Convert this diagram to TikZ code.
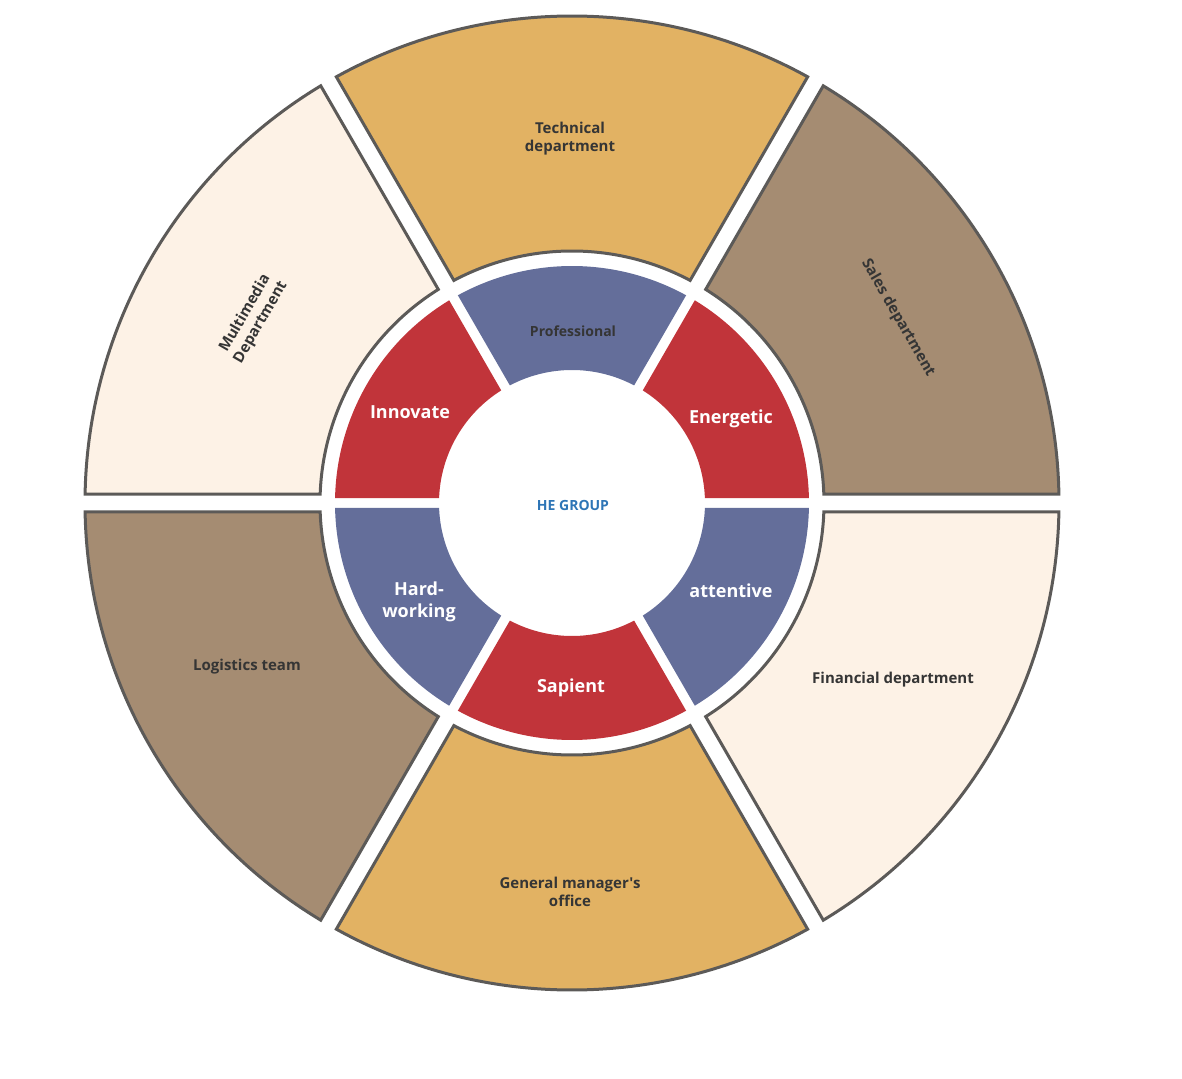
\documentclass[tikz,border=0pt]{standalone}
\usepackage{fontspec}
\setmainfont{Open Sans}[Ligatures=TeXOff]
\definecolor{gold}{HTML}{E2B263}
\definecolor{tan}{HTML}{A58C72}
\definecolor{cream}{HTML}{FDF2E6}
\definecolor{rimgray}{HTML}{5C5A58}
\definecolor{ringred}{HTML}{C1343A}
\definecolor{ringblue}{HTML}{646E9A}
\definecolor{labeldark}{HTML}{353535}
\definecolor{heblue}{HTML}{2E75B6}
\newcommand\ringsector[6]{%
  \pgfmathsetmacro\dA{asin(#5/#3)}%
  \pgfmathsetmacro\dB{asin(#5/#4)}%
  \path[#6] ({#1+\dA}:#3pt) -- ({#1+\dB}:#4pt)
    arc[start angle={#1+\dB}, end angle={#2-\dB}, radius=#4pt]
    -- ({#2-\dA}:#3pt)
    arc[start angle={#2-\dA}, end angle={#1+\dA}, radius=#3pt] -- cycle;}
\tikzset{
  outerseg/.style={draw=rimgray, line width=3pt, line join=miter, fill=#1},
  innerseg/.style={fill=#1},
  deptlabel/.style={text=labeldark, font=\fontsize{15}{18}\selectfont\bfseries, align=center},
  valuelabel/.style={text=white, font=\fontsize{18}{22}\selectfont\bfseries, align=center},
}
\begin{document}
\begin{tikzpicture}[x=1pt,y=1pt]
\useasboundingbox (-572pt,-575pt) rectangle (610pt,503pt);
% outer ring
\ringsector{0}{60}{252}{487}{9}{outerseg=tan}
\ringsector{60}{120}{252}{487}{9}{outerseg=gold}
\ringsector{120}{180}{252}{487}{9}{outerseg=cream}
\ringsector{180}{240}{252}{487}{9}{outerseg=tan}
\ringsector{240}{300}{252}{487}{9}{outerseg=gold}
\ringsector{300}{360}{252}{487}{9}{outerseg=cream}
% inner ring
\ringsector{0}{60}{133}{237}{5}{innerseg=ringred}
\ringsector{60}{120}{133}{237}{5}{innerseg=ringblue}
\ringsector{120}{180}{133}{237}{5}{innerseg=ringred}
\ringsector{180}{240}{133}{237}{5}{innerseg=ringblue}
\ringsector{240}{300}{133}{237}{5}{innerseg=ringred}
\ringsector{300}{360}{133}{237}{5}{innerseg=ringblue}
% department labels
\node[deptlabel] (tech) at (-2,364) {Technical\\department};
\node[deptlabel, rotate=-60] (sales) at (326,185) {Sales department};
\node[deptlabel, rotate=60] (multi) at (-319,185) {Multimedia\\Department};
\node[deptlabel] (logi) at (-325,-163.5) {Logistics team};
\node[deptlabel] (fin) at (321,-176.5) {Financial department};
\node[deptlabel] (gm) at (-2,-389) {General manager's\\office};
% value labels
\node[text=labeldark, font=\fontsize{14}{17}\selectfont\bfseries] (prof) at (1,172) {Professional};
\node[valuelabel] (innov) at (-162,90.5) {Innovate};
\node[valuelabel] (energ) at (159,84.5) {Energetic};
\node[valuelabel] (hard) at (-153,-98.5) {Hard-\\working};
\node[valuelabel] (atten) at (159,-87.5) {attentive};
\node[valuelabel] (sapi) at (-1,-184.5) {Sapient};
\node[text=heblue, font=\fontsize{14}{17}\selectfont\bfseries] (he) at (1,-2.5) {HE GROUP};
\end{tikzpicture}
\end{document}
